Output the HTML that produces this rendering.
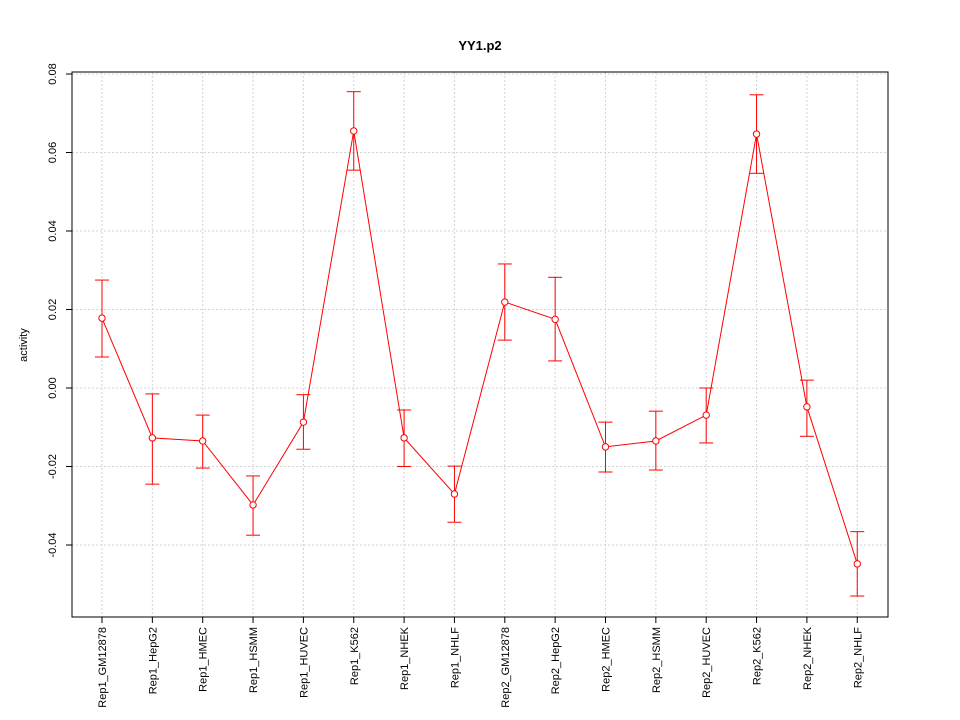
<!DOCTYPE html>
<html><head><meta charset="utf-8"><style>body{margin:0;background:#fff}svg{display:block;font-family:"Liberation Sans",sans-serif}</style></head>
<body>
<svg id="c" width="960" height="720"></svg>
<script>
const categories=["Rep1_GM12878","Rep1_HepG2","Rep1_HMEC","Rep1_HSMM","Rep1_HUVEC","Rep1_K562","Rep1_NHEK","Rep1_NHLF","Rep2_GM12878","Rep2_HepG2","Rep2_HMEC","Rep2_HSMM","Rep2_HUVEC","Rep2_K562","Rep2_NHEK","Rep2_NHLF"];
const values=[0.0178,-0.0127,-0.0135,-0.0298,-0.0087,0.0655,-0.0127,-0.027,0.0219,0.0175,-0.015,-0.0135,-0.0069,0.0647,-0.0048,-0.0448];
const upper=[0.0275,-0.0015,-0.0069,-0.0224,-0.0017,0.0755,-0.0056,-0.0199,0.0316,0.0282,-0.0087,-0.0059,0.0,0.0747,0.0020,-0.0366];
const lower=[0.0079,-0.0245,-0.0204,-0.0375,-0.0156,0.0555,-0.0200,-0.0342,0.0122,0.0069,-0.0214,-0.0209,-0.0140,0.0547,-0.0123,-0.0530];
const yTicks=[-0.04,-0.02,0,0.02,0.04,0.06,0.08];
const yLabels=["-0.04","-0.02","0.00","0.02","0.04","0.06","0.08"];
const svg=document.getElementById('c');const NS="http://www.w3.org/2000/svg";
const L=72,R=888,T=72,B=617;
const y=v=>388-v*3925;const x=i=>102+i*50.35;
function mk(t,a,p){const e=document.createElementNS(NS,t);for(const k in a)e.setAttribute(k,a[k]);(p||svg).appendChild(e);return e;}
let e;
e=mk('text',{x:480,y:50,'text-anchor':'middle','font-size':13,'font-weight':'bold'});e.textContent="YY1.p2";


categories.forEach((c,i)=>{e=mk('line',{x1:x(i),x2:x(i),y1:T,y2:B,stroke:'#d3d3d3','stroke-dasharray':'2,2'});

});
yTicks.forEach((v,i)=>{e=mk('line',{x1:L,x2:R,y1:y(v),y2:y(v),stroke:'#d3d3d3','stroke-dasharray':'2,2'});


e=mk('line',{x1:L-6,x2:L,y1:y(v),y2:y(v),stroke:'#000'});


e=mk('text',{x:0,y:0,transform:`translate(56,${y(v)}) rotate(-90)`,'text-anchor':'middle','font-size':11});e.textContent=yLabels[i];

});
categories.forEach((c,i)=>{e=mk('line',{x1:x(i),x2:x(i),y1:B,y2:B+6,stroke:'#000'});


e=mk('text',{x:0,y:0,transform:`translate(${x(i)+4},627) rotate(-90)`,'text-anchor':'end','font-size':11});e.textContent=c;

});
e=mk('text',{x:0,y:0,transform:'translate(27,345) rotate(-90)','text-anchor':'middle','font-size':11});e.textContent="activity";


e=mk('polyline',{points:values.map((v,i)=>x(i)+','+y(v)).join(' '),fill:'none',stroke:'#ff0000'});


values.forEach((v,i)=>{const g=mk('g',{stroke:'#ff0000',fill:'none'});


mk('line',{x1:x(i),x2:x(i),y1:y(upper[i]),y2:y(lower[i])},g);
mk('line',{x1:x(i)-7,x2:x(i)+7,y1:y(upper[i]),y2:y(upper[i])},g);
mk('line',{x1:x(i)-7,x2:x(i)+7,y1:y(lower[i]),y2:y(lower[i])},g);
e=mk('circle',{cx:x(i),cy:y(v),r:3.2,fill:'#fff',stroke:'#ff0000'});

});
e=mk('rect',{x:L,y:T,width:R-L,height:B-T,fill:'none',stroke:'#000'});


</script>
</body></html>
